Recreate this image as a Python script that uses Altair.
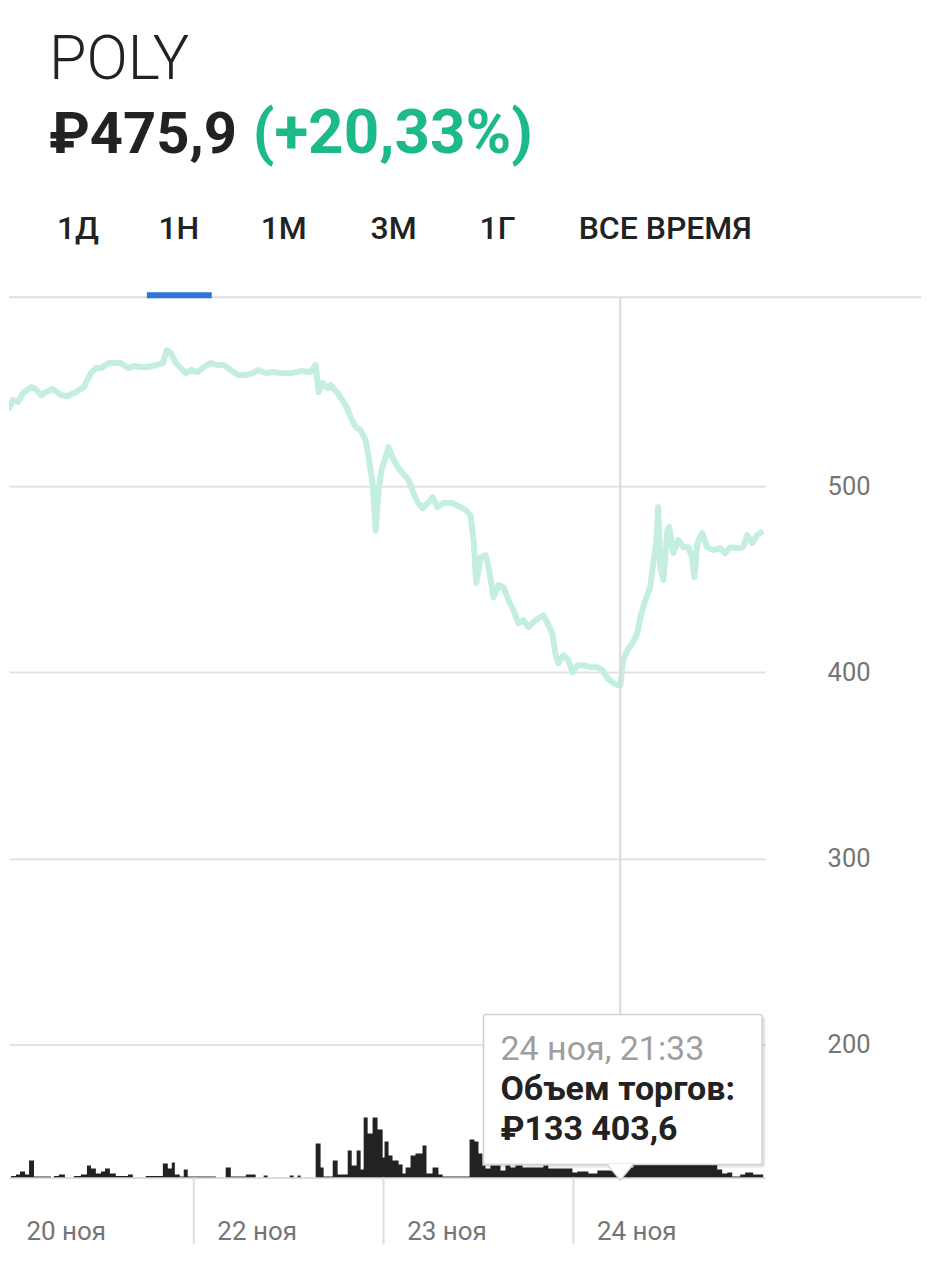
import altair as alt
import pandas as pd

# ---------------- data ----------------
# t = position on the trading timeline in days (0 = start of 20 ноя, 1 = 22 ноя, 2 = 23 ноя, 3 = 24 ноя)
price_t = [-0.016, 0.026, 0.047, 0.074, 0.100, 0.142, 0.168, 0.195, 0.221, 0.258,
           0.300, 0.337, 0.379, 0.421, 0.458, 0.484, 0.511, 0.553, 0.589, 0.616,
           0.653, 0.684, 0.721, 0.758, 0.800, 0.837, 0.858, 0.879, 0.905, 0.932,
           0.958, 0.984, 1.021, 1.053, 1.089, 1.126, 1.158, 1.195, 1.232, 1.274,
           1.311, 1.342, 1.379, 1.416, 1.458, 1.511, 1.563, 1.616, 1.642, 1.658,
           1.679, 1.705, 1.721, 1.758, 1.800, 1.826, 1.853, 1.879, 1.905, 1.921,
           1.942, 1.958, 1.974, 1.989, 2.011, 2.026, 2.047, 2.074, 2.100, 2.132,
           2.158, 2.179, 2.205, 2.237, 2.258, 2.284, 2.316, 2.363, 2.405, 2.432,
           2.458, 2.474, 2.489, 2.511, 2.537, 2.553, 2.579, 2.605, 2.632, 2.658,
           2.684, 2.711, 2.737, 2.763, 2.789, 2.816, 2.842, 2.868, 2.889, 2.905,
           2.921, 2.947, 2.974, 2.995, 3.021, 3.053, 3.089, 3.126, 3.153, 3.179,
           3.205, 3.232, 3.247, 3.263, 3.284, 3.311, 3.337, 3.353, 3.379, 3.405,
           3.421, 3.437, 3.447, 3.458, 3.474, 3.495, 3.505, 3.526, 3.553, 3.579,
           3.605, 3.626, 3.637, 3.653, 3.679, 3.705, 3.737, 3.774, 3.800, 3.826,
           3.868, 3.895, 3.916, 3.942, 3.968, 4.000]
price_v = [540.9, 541.9, 546.2, 545.2, 550.0, 553.2, 552.1, 548.9, 550.5, 552.1,
           548.9, 548.4, 550.5, 553.2, 560.7, 563.4, 563.4, 566.1, 566.1, 566.1,
           563.4, 564.5, 564.0, 564.0, 565.0, 566.1, 573.1, 571.5, 566.1, 563.4,
           560.7, 562.4, 561.3, 564.0, 566.1, 565.0, 565.0, 562.4, 559.7, 559.7,
           560.7, 562.4, 560.7, 561.3, 560.7, 560.7, 561.8, 561.3, 565.0, 550.5,
           555.4, 552.7, 554.3, 550.0, 543.5, 537.1, 531.7, 530.1, 524.7, 515.6,
           501.6, 476.3, 497.8, 508.6, 515.6, 521.0, 515.6, 510.2, 507.0, 503.2,
           496.2, 491.4, 488.2, 491.4, 494.1, 488.7, 490.9, 490.9, 488.7, 487.1,
           484.4, 471.0, 447.9, 461.8, 462.9, 456.5, 440.3, 446.8, 445.7, 438.7,
           433.3, 426.3, 428.0, 424.2, 426.9, 429.0, 430.6, 425.3, 421.0, 410.2,
           404.8, 409.1, 406.5, 400.0, 403.8, 403.8, 402.7, 402.7, 401.1, 396.8,
           394.6, 393.0, 393.0, 406.5, 411.8, 415.6, 421.0, 429.6, 438.7, 445.7,
           458.6, 469.4, 488.7, 456.5, 449.5, 476.3, 478.0, 464.0, 471.0, 467.2,
           467.2, 461.8, 451.1, 469.4, 474.7, 467.2, 465.6, 466.7, 464.0, 467.2,
           466.7, 467.2, 473.7, 469.4, 473.7, 475.9]

# traded volume, thousand ₽ (each value holds until the next t)
vol_t = [0.037, 0.063, 0.084, 0.111, 0.132, 0.158, 0.247, 0.263, 0.289, 0.321,
         0.368, 0.405, 0.437, 0.458, 0.484, 0.511, 0.532, 0.558, 0.589, 0.653,
         0.679, 0.747, 0.805, 0.837, 0.863, 0.884, 0.900, 0.926, 0.947, 0.968,
         1.116, 1.168, 1.195, 1.274, 1.326, 1.368, 1.389, 1.505, 1.526, 1.547,
         1.563, 1.642, 1.668, 1.684, 1.732, 1.758, 1.811, 1.832, 1.858, 1.879,
         1.895, 1.916, 1.942, 1.968, 1.995, 2.005, 2.026, 2.047, 2.079, 2.100,
         2.116, 2.142, 2.168, 2.205, 2.226, 2.258, 2.289, 2.311, 2.453, 2.479,
         2.500, 2.521, 2.537, 2.563, 2.616, 2.642, 2.668, 2.695, 2.732, 2.842,
         2.868, 2.995, 3.021, 3.079, 3.126, 3.195, 3.263, 3.316, 3.432, 3.563,
         3.668, 3.758, 3.784, 3.811, 3.837, 3.879, 3.905, 3.947, 4.000]
vol_v = [30, 60, 120, 60, 340, 20, 0, 30, 60, 0,
         30, 60, 240, 180, 80, 120, 180, 80, 30, 60,
         0, 30, 30, 280, 180, 300, 60, 20, 160, 20,
         0, 200, 20, 60, 0, 40, 0, 40, 0, 40,
         0, 680, 200, 20, 340, 60, 540, 240, 540, 160,
         1200, 880, 1200, 960, 400, 720, 440, 340, 260, 80,
         200, 440, 480, 640, 80, 200, 60, 20, 760, 720,
         480, 240, 180, 240, 140, 240, 200, 240, 200, 240,
         180, 100, 120, 80, 140, 133.4, 200, 260, 280, 260,
         280, 160, 80, 100, 20, 60, 100, 60, 0]

day_labels = ["20 ноя", "22 ноя", "23 ноя", "24 ноя"]
day_label_t = [0.126, 1.132, 2.132, 3.132]
day_bounds = [1.0, 2.0, 3.0]
price_ticks = [200, 300, 400, 500]
cursor_t = [3.247]

ticker = "POLY"
last_price = "₽475,9"
change = "(+20,33%)"
tabs = ["1Д", "1Н", "1М", "3М", "1Г", "ВСЕ ВРЕМЯ"]
tip_time = "24 ноя, 21:33"
tip_label = "Объем торгов:"
tip_value = "₽133 403,6"

# ---------------- chart ----------------
FONT = "Roboto"
W, H = 757, 1170
xs = alt.Scale(domain=[0.0263, 4.0105], nice=False, zero=False)

label_expr = ""
for i, (v, lab) in enumerate(zip(day_label_t, day_labels)):
    if i < len(day_labels) - 1:
        label_expr += f"datum.value < {v + 0.5} ? '{lab}' : "
    else:
        label_expr += f"'{lab}'"

x_axis = alt.Axis(values=day_label_t, labelExpr=label_expr, title=None, ticks=False,
                  grid=False, domain=True, domainColor="#dddddd", domainWidth=2,
                  labelAlign="left", labelBaseline="middle", labelPadding=54,
                  labelFontSize=26, labelColor="#757575", labelFont=FONT,
                  labelOverlap=False, labelFlush=False, labelOffset=-2)

price_df = pd.DataFrame({"t": price_t, "price": price_v})
vol_df = pd.DataFrame({"t": vol_t, "vol": vol_v})

line = alt.Chart(price_df).mark_line(color="#c4eee0", strokeWidth=6, clip=True,
                                     strokeJoin="round").encode(
    x=alt.X("t:Q", scale=xs, axis=x_axis),
    y=alt.Y("price:Q",
            scale=alt.Scale(domain=[128.6, 756.5], nice=False, zero=False),
            axis=alt.Axis(orient="right", values=price_ticks, grid=True,
                          gridColor="#e3e3e3", gridWidth=2, ticks=False, domain=False,
                          labelPadding=62, labelFontSize=25.5, labelColor="#757575",
                          labelFont=FONT, labelAlign="left", labelBaseline="middle",
                          title=None)),
)

volume = alt.Chart(vol_df).mark_area(interpolate="step-after", color="#222222",
                                     clip=True).encode(
    x=alt.X("t:Q", scale=xs, axis=x_axis),
    y=alt.Y("vol:Q", scale=alt.Scale(domain=[0, 23400], nice=False), axis=None),
)

seps = alt.Chart(pd.DataFrame({"t": day_bounds})).mark_rule(
    color="#dddddd", strokeWidth=2).encode(
    x=alt.X("t:Q", scale=xs, axis=x_axis), y=alt.value(H), y2=alt.value(H + 67))

cursor_df = pd.DataFrame({"t": cursor_t})
cursor = alt.Chart(cursor_df).mark_rule(color="#d9d9d9", strokeWidth=2).encode(
    x=alt.X("t:Q", scale=xs, axis=x_axis), y=alt.value(289), y2=alt.value(H))


def box(x1, x2, y1, y2, **kw):
    return alt.Chart(pd.DataFrame({"a": [0]})).mark_rect(**kw).encode(
        x=alt.value(x1), x2=alt.value(x2), y=alt.value(y1), y2=alt.value(y2))


def txt(s, x, y, **kw):
    return alt.Chart(pd.DataFrame({"s": [s]})).mark_text(font=FONT, **kw).encode(
        x=alt.value(x), y=alt.value(y), text="s:N")


tip_shadow = box(477, 757, 1009, 1160, fill="#000000", opacity=0.10, cornerRadius=3)
tip_box = box(475, 754, 1007, 1157, fill="white", stroke="#d0d0d0", strokeWidth=1.5,
              cornerRadius=2)
pointer = alt.Chart(cursor_df).mark_point(
    shape="M-1,-0.6L1,-0.6L0,0.6Z", size=676, filled=True, fill="white",
    stroke="#d0d0d0", strokeWidth=1.5, opacity=1).encode(
    x=alt.X("t:Q", scale=xs, axis=x_axis), y=alt.value(1165))
pointer_cover = alt.Chart(cursor_df).mark_point(
    shape="M-1,-0.6L1,-0.6L0,0.6Z", size=600, filled=True, fill="white",
    strokeWidth=0, opacity=1).encode(
    x=alt.X("t:Q", scale=xs, axis=x_axis), y=alt.value(1164))

tip_t1 = txt(tip_time, 492, 1042, align="left", baseline="middle", fontSize=34,
             color="#9e9e9e")
tip_t2 = txt(tip_label, 492, 1083, align="left", baseline="middle", fontSize=34,
             fontWeight="bold", color="#222222")
tip_t3 = txt(tip_value, 492, 1123, align="left", baseline="middle", fontSize=34,
             fontWeight="bold", color="#222222")

head1 = txt(ticker, 40, 70, align="left", baseline="alphabetic", fontSize=61,
            fontWeight=300, color="#222222")
head2 = txt(last_price, 40, 144, align="left", baseline="alphabetic", fontSize=58,
            fontWeight="bold", color="#222222")
head3 = txt(change, 244, 144, align="left", baseline="alphabetic", fontSize=62,
            fontWeight="bold", color="#1db98a")

tab_centers = [69, 170, 275, 385, 489, 657]
tab_layers = [txt(s, cx, 231, align="center", baseline="alphabetic", fontSize=32,
                  fontWeight=500, color="#222222")
              for s, cx in zip(tabs, tab_centers)]

top_rule = alt.Chart(pd.DataFrame({"a": [0]})).mark_rule(
    color="#dedede", strokeWidth=2).encode(
    x=alt.value(0), x2=alt.value(913), y=alt.value(289))
underline = box(138, 203, 284, 290, fill="#2f74d8")

chart = alt.layer(
    line, volume, seps, cursor, top_rule, underline,
    tip_shadow, tip_box, pointer, pointer_cover, tip_t1, tip_t2, tip_t3,
    head1, head2, head3, *tab_layers,
).resolve_scale(y="independent").properties(
    width=W, height=H, padding=0, background="white"
).configure_view(stroke=None)

chart.save("out.html", embed_options={"renderer": "svg", "actions": False})
